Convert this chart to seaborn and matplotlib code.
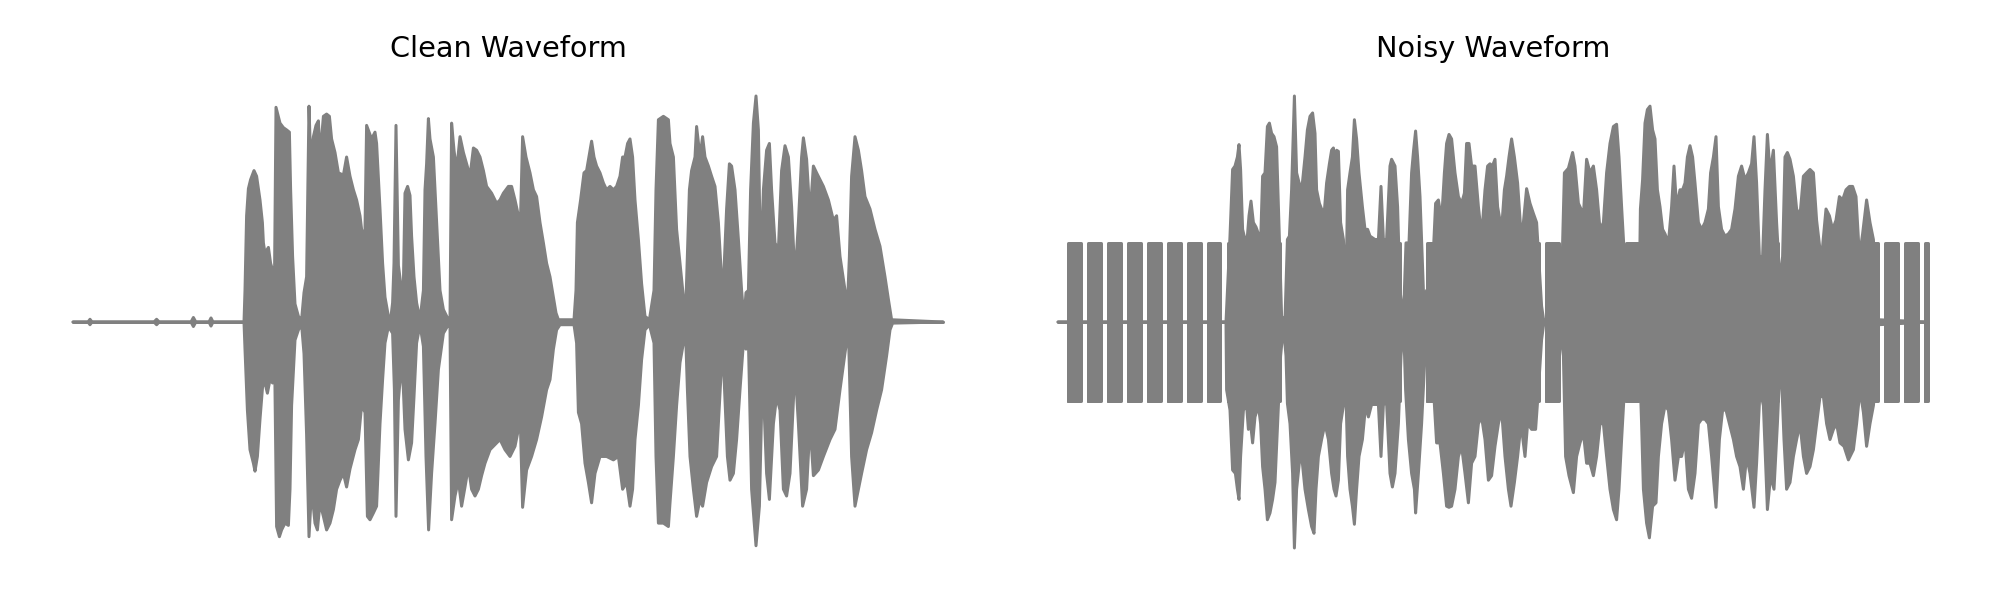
import matplotlib
matplotlib.use("Agg")
import matplotlib.pyplot as plt
import pandas as pd
import seaborn as sns

# ---------------- data (amplitude envelopes) -------------
# time in ms, amplitude normalised to [-1, 1]
titles = ["Clean Waveform", "Noisy Waveform"]

clean_upper_t = [
    0, 75, 85, 95, 405, 418, 431, 590, 602, 614, 680, 690, 700, 855,
    860, 868, 877, 888, 905, 918, 935, 947, 952, 960,
    977, 988, 998, 1007, 1015, 1035, 1052, 1068, 1082, 1088,
    1098, 1110, 1127, 1143, 1155, 1168, 1180, 1188, 1202, 1215,
    1227, 1235, 1252, 1268, 1282, 1293, 1310, 1327, 1352, 1368,
    1385, 1402, 1418, 1435, 1447, 1460, 1468, 1493, 1510, 1518,
    1535, 1548, 1560, 1577, 1588, 1598, 1605, 1615, 1627, 1643,
    1652, 1660, 1673, 1685, 1693, 1705, 1718, 1735, 1752, 1760,
    1768, 1777, 1785, 1802, 1818, 1835, 1852, 1877,
    1885, 1893, 1905, 1918, 1935, 1952, 1968, 1985, 2002, 2018,
    2035, 2052, 2068, 2093, 2118, 2135, 2152, 2177, 2193, 2210,
    2227, 2238, 2248, 2265, 2285, 2302, 2318, 2335, 2352, 2368,
    2385, 2402, 2415, 2427, 2505, 2515, 2522, 2538, 2555, 2568,
    2593, 2605, 2618, 2635, 2652, 2668, 2685, 2702, 2718, 2735,
    2748, 2760, 2773, 2785, 2798, 2810, 2827, 2843, 2860, 2882,
    2905, 2915, 2927, 2952, 2977,
    2985, 3002, 3018, 3035, 3052, 3062, 3072, 3082, 3093, 3110,
    3118, 3135, 3148, 3160, 3177, 3193, 3210, 3227, 3243, 3255,
    3268, 3282, 3293, 3310, 3327, 3343, 3355, 3365, 3377, 3388,
    3402, 3415, 3427, 3438, 3452, 3468, 3482, 3493, 3510, 3527,
    3543, 3560, 3577, 3593, 3610, 3627, 3643, 3652, 3668, 3685,
    3702, 3718, 3735, 3752, 3777, 3802, 3818, 3835, 3855, 3872,
    3882, 3893, 3910, 3927, 3943, 3960, 3985, 4010, 4035, 4060,
    4077, 4093, 4350,
]
clean_upper_v = [
    0, 0, 0.012, 0, 0, 0.012, 0, 0, 0.02, 0, 0, 0.018, 0, 0,
    0.14, 0.47, 0.59, 0.63, 0.67, 0.645, 0.54, 0.44, 0.35, 0.305,
    0.33, 0.26, 0.23, 0.14, 0.95, 0.88, 0.86, 0.85, 0.84, 0.59,
    0.29, 0.08, 0.025, 0.01, 0.13, 0.2, 0.955, 0.72, 0.82, 0.87,
    0.89, 0.73, 0.91, 0.92, 0.91, 0.81, 0.75, 0.66, 0.65, 0.73,
    0.645, 0.585, 0.54, 0.47, 0.38, 0.41, 0.87, 0.81, 0.84, 0.79,
    0.5, 0.26, 0.11, 0.025, 0.01, 0.085, 0.26, 0.87, 0.25, 0.14,
    0.17, 0.57, 0.6, 0.56, 0.38, 0.2, 0.085, 0.01, 0.14, 0.585,
    0.7, 0.9, 0.81, 0.73, 0.44, 0.14, 0.055, 0.01,
    0.01, 0.88, 0.76, 0.67, 0.82, 0.75, 0.70, 0.645, 0.77, 0.76,
    0.73, 0.67, 0.60, 0.57, 0.525, 0.54, 0.57, 0.60, 0.60, 0.54,
    0.47, 0.47, 0.82, 0.73, 0.66, 0.585, 0.555, 0.44, 0.35, 0.26,
    0.20, 0.11, 0.04, 0.01, 0.01, 0.14, 0.44, 0.54, 0.66, 0.67,
    0.80, 0.73, 0.69, 0.66, 0.615, 0.585, 0.60, 0.585, 0.60, 0.645,
    0.73, 0.73, 0.79, 0.81, 0.73, 0.54, 0.365, 0.17, 0.025, 0.01,
    0.14, 0.585, 0.895, 0.91, 0.895,
    0.79, 0.73, 0.41, 0.26, 0.11, 0.01, 0.29, 0.585, 0.67, 0.73,
    0.865, 0.73, 0.82, 0.73, 0.69, 0.645, 0.60, 0.44, 0.19, 0.23,
    0.50, 0.70, 0.69, 0.585, 0.365, 0.14, 0.01, 0.13, 0.14, 0.585,
    0.88, 1.0, 0.85, 0.22, 0.585, 0.76, 0.79, 0.585, 0.35, 0.32,
    0.67, 0.78, 0.73, 0.51, 0.19, 0.44, 0.73, 0.815, 0.72, 0.47,
    0.69, 0.66, 0.63, 0.60, 0.54, 0.45, 0.47, 0.29, 0.17, 0.07,
    0.29, 0.645, 0.82, 0.76, 0.67, 0.555, 0.50, 0.41, 0.335, 0.20,
    0.10, 0.01, 0.0,
]

clean_lower_t = [
    0, 75, 85, 95, 405, 418, 431, 590, 602, 614, 680, 690, 700, 855,
    860, 872, 885, 902, 910, 922, 935, 948, 960, 972,
    985, 998, 1007, 1018, 1032, 1043, 1060, 1077, 1085, 1093,
    1110, 1127, 1143, 1155, 1168, 1180, 1193, 1210, 1222, 1235,
    1252, 1268, 1285, 1302, 1318, 1335, 1352, 1368, 1385, 1410,
    1427, 1443, 1460, 1472, 1485, 1502, 1518, 1535, 1548, 1560,
    1577, 1598, 1607, 1615, 1627, 1643, 1652, 1660, 1677, 1693,
    1705, 1718, 1735, 1752, 1765, 1778, 1793, 1810, 1827, 1852,
    1877,
    1885, 1893, 1910, 1927, 1943, 1960, 1977, 1993, 2010, 2027,
    2043, 2060, 2085, 2118, 2135, 2160, 2185, 2210, 2227, 2238,
    2248, 2268, 2293, 2318, 2343, 2368, 2385, 2402, 2418, 2435,
    2505, 2518, 2527, 2543, 2560, 2577, 2593, 2610, 2635, 2668,
    2702, 2727, 2748, 2768, 2785, 2798, 2810, 2827, 2843, 2860,
    2882, 2905, 2915, 2927, 2952, 2977,
    2985, 3002, 3018, 3035, 3052, 3062, 3072, 3085, 3102, 3118,
    3135, 3148, 3168, 3193, 3218, 3243, 3255, 3272, 3285, 3302,
    3318, 3335, 3352, 3365, 3377, 3393, 3415, 3432, 3448, 3468,
    3482, 3502, 3518, 3535, 3552, 3568, 3585, 3610, 3627, 3648,
    3668, 3685, 3702, 3727, 3752, 3785, 3810, 3835, 3860, 3877,
    3893, 3910, 3927, 3943, 3968, 3993, 4018, 4043, 4068, 4085,
    4098, 4350,
]
clean_lower_v = [
    0, 0, -0.012, 0, 0, -0.012, 0, 0, -0.02, 0, 0, -0.018, 0, 0,
    -0.12, -0.39, -0.565, -0.625, -0.66, -0.595, -0.43, -0.285, -0.27, -0.315,
    -0.255, -0.27, -0.07, -0.905, -0.95, -0.92, -0.89, -0.9, -0.74, -0.37,
    -0.08, -0.035, -0.012, -0.14, -0.5, -0.95, -0.74, -0.89, -0.92, -0.8,
    -0.86, -0.92, -0.89, -0.83, -0.74, -0.70, -0.67, -0.73, -0.65, -0.565,
    -0.52, -0.37, -0.40, -0.86, -0.875, -0.845, -0.815, -0.45, -0.255, -0.093,
    -0.02, -0.05, -0.3, -0.86, -0.345, -0.18, -0.3, -0.475, -0.61, -0.535,
    -0.33, -0.093, -0.012, -0.108, -0.595, -0.92, -0.67, -0.45, -0.21, -0.05,
    -0.012,
    -0.012, -0.875, -0.77, -0.70, -0.815, -0.73, -0.64, -0.74, -0.77, -0.74,
    -0.68, -0.625, -0.565, -0.535, -0.52, -0.565, -0.595, -0.55, -0.475, -0.49,
    -0.82, -0.655, -0.595, -0.52, -0.42, -0.30, -0.255, -0.12, -0.035, -0.012,
    -0.012, -0.093, -0.40, -0.45, -0.625, -0.71, -0.80, -0.67, -0.595, -0.595,
    -0.61, -0.595, -0.74, -0.71, -0.815, -0.74, -0.52, -0.37, -0.167, -0.035,
    -0.012, -0.093, -0.595, -0.89, -0.89, -0.905,
    -0.80, -0.595, -0.37, -0.18, -0.093, -0.02, -0.30, -0.595, -0.74, -0.86,
    -0.785, -0.815, -0.71, -0.64, -0.595, -0.185, -0.24, -0.595, -0.70, -0.67,
    -0.52, -0.30, -0.093, -0.12, -0.078, -0.74, -0.99, -0.815, -0.21, -0.67,
    -0.785, -0.45, -0.33, -0.39, -0.74, -0.77, -0.67, -0.196, -0.45, -0.815,
    -0.74, -0.45, -0.68, -0.655, -0.595, -0.52, -0.475, -0.30, -0.137, -0.035,
    -0.595, -0.815, -0.74, -0.67, -0.565, -0.49, -0.39, -0.30, -0.15, -0.035,
    -0.005, 0.0,
]

noisy_upper_t = [
    0, 840, 860, 873, 885, 897, 905, 913, 923, 935,
    947, 955, 965, 977, 990, 1002, 1013, 1023, 1035, 1047,
    1057, 1068, 1080, 1093, 1107, 1118, 1135, 1147, 1157, 1168,
    1182, 1193, 1210, 1222, 1235, 1247, 1260, 1273, 1285, 1293,
    1307, 1318, 1330, 1343, 1357, 1368, 1377, 1385, 1393, 1402,
    1413, 1427, 1440, 1448, 1460, 1472, 1482, 1493, 1505, 1522,
    1535, 1548, 1560, 1585, 1602, 1615, 1627, 1643, 1660, 1668,
    1685, 1698, 1710, 1727, 1740, 1755, 1768, 1778, 1788, 1798,
    1810, 1827, 1835, 1843, 1868, 1888, 1902, 1918, 1932, 1943,
    1955, 1968, 1985, 2002, 2018, 2032, 2043, 2055, 2068, 2085,
    2102, 2118, 2135, 2148, 2160, 2172, 2185, 2198, 2218, 2232,
    2243, 2255, 2268, 2282, 2298, 2315, 2327, 2343, 2360, 2377,
    2393, 2405, 2418, 2428, 2502, 2515, 2532, 2552, 2573, 2585,
    2602, 2615, 2627, 2643, 2660, 2677, 2693, 2710, 2727, 2743,
    2760, 2777, 2793, 2805, 2818, 2832, 2868, 2905, 2912, 2923,
    2935, 2947, 2960, 2973, 2985, 2997, 3010, 3023, 3035, 3052,
    3068, 3080, 3093, 3110, 3123, 3135, 3147, 3160, 3173, 3185,
    3202, 3218, 3235, 3252, 3263, 3277, 3290, 3302, 3318, 3335,
    3352, 3368, 3385, 3402, 3418, 3435, 3452, 3468, 3480, 3493,
    3507, 3523, 3535, 3547, 3560, 3577, 3593, 3610, 3623, 3635,
    3647, 3660, 3677, 3693, 3710, 3727, 3743, 3760, 3777, 3793,
    3810, 3823, 3840, 3857, 3873, 3890, 3907, 3923, 3940, 3957,
    3973, 3990, 4007, 4023, 4043, 4060, 4077, 4090, 4102, 4350,
]
noisy_upper_v = [
    0, 0, 0.38, 0.675, 0.69, 0.73, 0.785, 0.675, 0.41, 0.365,
    0.38, 0.47, 0.535, 0.44, 0.42, 0.39, 0.35, 0.645, 0.66, 0.865,
    0.88, 0.835, 0.82, 0.775, 0.365, 0.025, 0.01, 0.365, 0.38, 0.585,
    1.0, 0.66, 0.60, 0.615, 0.73, 0.85, 0.91, 0.925, 0.835, 0.585,
    0.525, 0.50, 0.47, 0.615, 0.70, 0.76, 0.77, 0.675, 0.76, 0.755,
    0.44, 0.365, 0.14, 0.585, 0.66, 0.73, 0.895, 0.81, 0.66, 0.51,
    0.41, 0.41, 0.38, 0.365, 0.365, 0.60, 0.365, 0.365, 0.69, 0.72,
    0.69, 0.51, 0.14, 0.01, 0.35, 0.35, 0.66, 0.76, 0.845, 0.73,
    0.555, 0.14, 0.11, 0.14, 0.14, 0.525, 0.54, 0.45, 0.66, 0.79,
    0.83, 0.81, 0.66, 0.555, 0.525, 0.57, 0.79, 0.79, 0.69, 0.69,
    0.51, 0.38, 0.585, 0.69, 0.70, 0.69, 0.72, 0.51, 0.41, 0.585,
    0.645, 0.73, 0.81, 0.73, 0.615, 0.39, 0.44, 0.59, 0.525, 0.48,
    0.44, 0.26, 0.07, 0.01, 0.01, 0.07, 0.66, 0.68, 0.75, 0.69,
    0.525, 0.50, 0.47, 0.72, 0.66, 0.69, 0.585, 0.41, 0.44, 0.66,
    0.79, 0.865, 0.875, 0.73, 0.51, 0.29, 0.2, 0.025, 0.5, 0.63,
    0.88, 0.94, 0.955, 0.85, 0.81, 0.585, 0.51, 0.41, 0.39, 0.35,
    0.51, 0.69, 0.51, 0.585, 0.585, 0.615, 0.73, 0.78, 0.73, 0.615,
    0.44, 0.41, 0.44, 0.50, 0.66, 0.73, 0.82, 0.51, 0.41, 0.38,
    0.39, 0.41, 0.50, 0.645, 0.69, 0.63, 0.66, 0.70, 0.82, 0.615,
    0.29, 0.29, 0.585, 0.83, 0.66, 0.76, 0.44, 0.17, 0.29, 0.73,
    0.75, 0.72, 0.645, 0.50, 0.47, 0.645, 0.66, 0.675, 0.66, 0.45,
    0.32, 0.335, 0.50, 0.47, 0.41, 0.45, 0.555, 0.54, 0.585, 0.60,
    0.60, 0.555, 0.29, 0.39, 0.54, 0.44, 0.365, 0.14, 0.01, 0.0,
]

noisy_lower_t = [
    0, 840, 843, 860, 873, 887, 897, 905, 913, 927,
    943, 952, 963, 973, 985, 1002, 1013, 1023, 1035, 1047,
    1060, 1073, 1085, 1102, 1113, 1127, 1140, 1147, 1160, 1173,
    1182, 1193, 1210, 1222, 1235, 1252, 1268, 1280, 1290, 1302,
    1318, 1335, 1352, 1368, 1380, 1390, 1402, 1413, 1427, 1440,
    1448, 1460, 1472, 1482, 1493, 1505, 1522, 1538, 1552, 1568,
    1602, 1615, 1627, 1643, 1660, 1672, 1685, 1702, 1715, 1728,
    1738, 1752, 1768, 1782, 1788, 1802, 1818, 1835, 1868, 1893,
    1910, 1927, 1943, 1955, 1968, 1985, 2002, 2018, 2035, 2052,
    2068, 2085, 2102, 2118, 2135, 2152, 2168, 2185, 2202, 2218,
    2235, 2252, 2265, 2282, 2298, 2315, 2335, 2348, 2368, 2388,
    2402, 2418, 2428, 2502, 2510, 2527, 2538, 2555, 2577, 2593,
    2610, 2627, 2643, 2660, 2677, 2693, 2710, 2727, 2743, 2760,
    2777, 2793, 2805, 2818, 2832, 2868, 2905, 2918, 2927, 2943,
    2957, 2973, 2990, 3002, 3018, 3035, 3052, 3068, 3085, 3102,
    3118, 3135, 3152, 3168, 3185, 3202, 3218, 3235, 3252, 3268,
    3290, 3307, 3323, 3340, 3357, 3377, 3393, 3410, 3427, 3443,
    3460, 3480, 3493, 3510, 3527, 3547, 3563, 3580, 3597, 3613,
    3630, 3643, 3660, 3677, 3693, 3710, 3727, 3743, 3760, 3777,
    3793, 3810, 3827, 3843, 3860, 3877, 3893, 3910, 3930, 3952,
    3977, 3993, 4010, 4027, 4043, 4060, 4077, 4093, 4102, 4350,
]
noisy_lower_v = [
    0, 0, -0.30, -0.39, -0.655, -0.67, -0.74, -0.785, -0.595, -0.39,
    -0.37, -0.475, -0.45, -0.535, -0.42, -0.37, -0.45, -0.64, -0.74, -0.875,
    -0.845, -0.785, -0.71, -0.37, -0.15, -0.02, -0.15, -0.36, -0.45, -0.67,
    -1.0, -0.74, -0.595, -0.625, -0.74, -0.83, -0.905, -0.935, -0.74, -0.595,
    -0.52, -0.45, -0.52, -0.67, -0.74, -0.77, -0.70, -0.45, -0.37, -0.33,
    -0.595, -0.74, -0.815, -0.895, -0.74, -0.595, -0.52, -0.37, -0.42, -0.365,
    -0.365, -0.595, -0.365, -0.36, -0.67, -0.73, -0.67, -0.45, -0.15, -0.012,
    -0.30, -0.52, -0.67, -0.74, -0.845, -0.67, -0.45, -0.15, -0.15, -0.535,
    -0.535, -0.67, -0.815, -0.82, -0.815, -0.74, -0.595, -0.55, -0.67, -0.80,
    -0.625, -0.595, -0.45, -0.42, -0.52, -0.70, -0.68, -0.55, -0.45, -0.39,
    -0.595, -0.74, -0.815, -0.71, -0.595, -0.45, -0.595, -0.45, -0.475, -0.475,
    -0.30, -0.078, -0.012, -0.012, -0.035, -0.15, -0.595, -0.68, -0.755, -0.595,
    -0.535, -0.49, -0.625, -0.625, -0.68, -0.595, -0.45, -0.45, -0.595, -0.74,
    -0.83, -0.875, -0.74, -0.52, -0.30, -0.2, -0.093, -0.45, -0.74, -0.89,
    -0.955, -0.815, -0.80, -0.595, -0.45, -0.37, -0.39, -0.52, -0.70, -0.595,
    -0.595, -0.52, -0.74, -0.78, -0.67, -0.45, -0.43, -0.43, -0.45, -0.595,
    -0.82, -0.52, -0.39, -0.39, -0.45, -0.52, -0.595, -0.64, -0.74, -0.595,
    -0.67, -0.82, -0.625, -0.30, -0.37, -0.83, -0.68, -0.74, -0.45, -0.137,
    -0.52, -0.74, -0.71, -0.595, -0.52, -0.45, -0.595, -0.67, -0.64, -0.565,
    -0.45, -0.33, -0.33, -0.45, -0.52, -0.475, -0.45, -0.535, -0.55, -0.61,
    -0.565, -0.45, -0.30, -0.40, -0.55, -0.45, -0.37, -0.225, -0.012, 0.0,
]

# periodic noise bursts in the noisy signal (start / end in ms, peak amplitude)
noise_start = [
    52, 152, 251, 351, 450, 550, 650, 749, 849, 948,
    1048, 1148, 1247, 1347, 1446, 1546, 1646, 1745, 1845, 1944,
    2044, 2144, 2243, 2343, 2442, 2542, 2642, 2741, 2841, 2940,
    3040, 3140, 3239, 3339, 3438, 3538, 3638, 3737, 3837, 3936,
    4036, 4136, 4235, 4335,
]
noise_end = [
    115, 215, 314, 414, 513, 613, 713, 812, 912, 1011,
    1111, 1211, 1310, 1410, 1509, 1609, 1709, 1808, 1908, 2007,
    2107, 2207, 2306, 2406, 2505, 2605, 2705, 2804, 2904, 3003,
    3103, 3203, 3302, 3402, 3501, 3601, 3701, 3800, 3900, 3999,
    4099, 4199, 4298, 4350,
]
noise_amp = 0.35
signal_span = [0, 4350]

# ---------------- plotting ----------------
sns.set_theme(style="white")
plt.rcParams["font.family"] = ["DejaVu Sans"]
plt.rcParams["text.color"] = "black"

GRAY = "#808080"
LW = 1.5
W, H, DPI = 2000, 600, 144

fig = plt.figure(figsize=(W / DPI, H / DPI), dpi=DPI)
ax_h = 497.2 / H
ax_b = 1 - 570.6 / H
ax1 = fig.add_axes([29.5 / W, ax_b, 957 / W, ax_h])
ax2 = fig.add_axes([1014.5 / W, ax_b, 957 / W, ax_h])


def draw_envelope(ax, ut, uv, lt, lv):
    ax.fill_between(ut, 0, uv, color=GRAY, lw=0, zorder=2)
    ax.fill_between(lt, lv, 0, color=GRAY, lw=0, zorder=2)
    up = pd.DataFrame({"time": ut, "amp": uv})
    lo = pd.DataFrame({"time": lt, "amp": lv})
    sns.lineplot(data=up, x="time", y="amp", ax=ax, color=GRAY, lw=LW,
                 estimator=None, sort=False, zorder=3)
    sns.lineplot(data=lo, x="time", y="amp", ax=ax, color=GRAY, lw=LW,
                 estimator=None, sort=False, zorder=3)
    # silent baseline across the whole signal
    base = pd.DataFrame({"time": signal_span, "amp": [0, 0]})
    sns.lineplot(data=base, x="time", y="amp", ax=ax, color=GRAY, lw=LW,
                 estimator=None, sort=False, zorder=4)


draw_envelope(ax1, clean_upper_t, clean_upper_v, clean_lower_t, clean_lower_v)
draw_envelope(ax2, noisy_upper_t, noisy_upper_v, noisy_lower_t, noisy_lower_v)

# noise bursts
rows = []
for k, (s, e) in enumerate(zip(noise_start, noise_end)):
    ax2.fill_between([s, e], -noise_amp, noise_amp, color=GRAY, lw=0, zorder=2)
    for t, v in [(s, -noise_amp), (s, noise_amp), (e, noise_amp), (e, -noise_amp), (s, -noise_amp)]:
        rows.append({"block": k, "time": t, "amp": v})
blocks = pd.DataFrame(rows)
sns.lineplot(data=blocks, x="time", y="amp", units="block", ax=ax2, color=GRAY,
             lw=LW, estimator=None, sort=False, zorder=3)

for ax, title in zip([ax1, ax2], titles):
    ax.set_xlim(-217.5, 4567.5)
    ax.set_ylim(-1.1, 1.1)
    ax.axis("off")
    ax.set_title(title, fontsize=14.4, pad=8, color="black")

fig.savefig("out.png", dpi=DPI)
